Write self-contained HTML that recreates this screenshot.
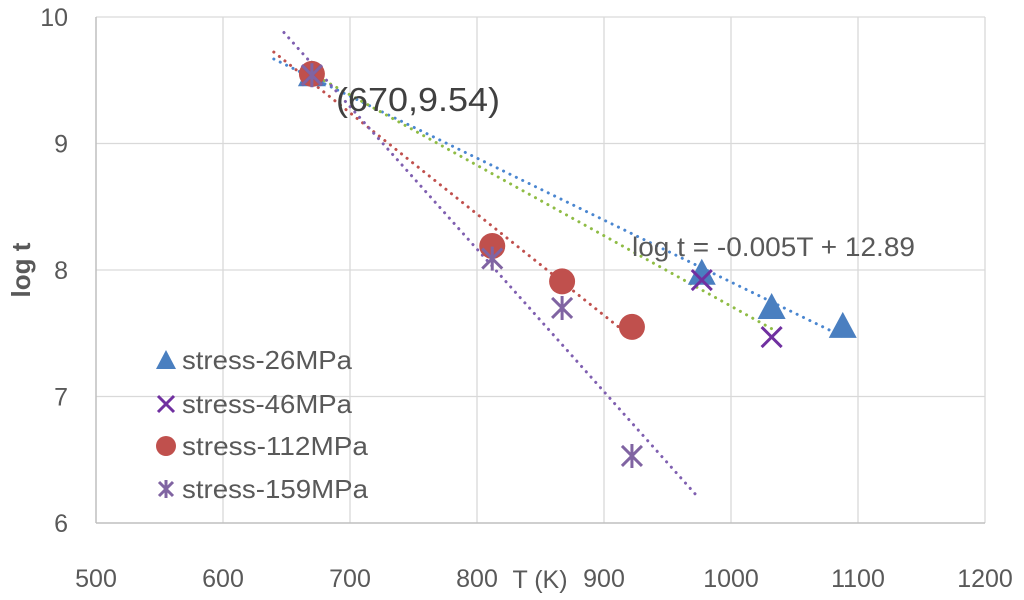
<!DOCTYPE html>
<html><head><meta charset="utf-8"><style>
html,body{margin:0;padding:0;background:#fff;width:1024px;height:600px;overflow:hidden}
svg{display:block;font-family:"Liberation Sans",sans-serif}
</style></head><body>
<svg id="chart" width="1024" height="600"></svg>
<script>
const xTicks=[500,600,700,800,900,1000,1100,1200];
const yTicks=[6,7,8,9,10];
const s26T=[670,977,1032,1088];
const s26Y=[9.54,7.97,7.70,7.55];
const s46T=[670,977,1032];
const s46Y=[9.54,7.92,7.47];
const s112T=[670,812,867,922];
const s112Y=[9.55,8.19,7.91,7.55];
const s159T=[670,812,867,922];
const s159Y=[9.54,8.09,7.70,6.53];
const seriesNames=["stress-26MPa","stress-46MPa","stress-112MPa","stress-159MPa"];

const NS="http://www.w3.org/2000/svg";
const svg=document.getElementById('chart');
const X0=96,X1=985,Y0=523,Y1=17;
const sx=v=>X0+(v-500)/700*(X1-X0);
const sy=v=>Y0-(v-6)/4*(Y0-Y1);
function mk(tag,attrs,parent){const e=document.createElementNS(NS,tag);for(const k in attrs)e.setAttribute(k,attrs[k]);(parent||svg).appendChild(e);return e;}

const grid=mk('g',{});


xTicks.forEach(t=>{if(t>500)mk('line',{x1:sx(t),x2:sx(t),y1:Y1,y2:Y0,stroke:'#d9d9d9','stroke-width':1.3},grid);});
yTicks.forEach(t=>{if(t>6)mk('line',{x1:X0,x2:X1,y1:sy(t),y2:sy(t),stroke:'#d9d9d9','stroke-width':1.3},grid);});
const axes=mk('g',{});


mk('line',{x1:X0,x2:X1,y1:Y0,y2:Y0,stroke:'#bfbfbf','stroke-width':1.5},axes);
mk('line',{x1:X0,x2:X0,y1:Y1,y2:Y0,stroke:'#bfbfbf','stroke-width':1.5},axes);

xTicks.forEach(t=>{const e=mk('text',{x:sx(t),y:587,'text-anchor':'middle','font-size':25,fill:'#595959'});e.textContent=t;

});
yTicks.forEach(t=>{const e=mk('text',{x:68,y:sy(t)+9,'text-anchor':'end','font-size':25,fill:'#595959'});e.textContent=t;

});
let e=mk('text',{x:540,y:588,'text-anchor':'middle','font-size':25,fill:'#595959'});e.textContent='T (K)';


e=mk('text',{x:30,y:270,'text-anchor':'middle','font-size':26,'font-weight':'bold',fill:'#595959',transform:'rotate(-90 30 270)'});e.textContent='log t';



function fit(T,Y){const n=T.length;let mx=0,my=0;T.forEach((t,i)=>{mx+=t;my+=Y[i]});mx/=n;my/=n;let a=0,b=0;T.forEach((t,i)=>{a+=(t-mx)*(Y[i]-my);b+=(t-mx)*(t-mx)});const m=a/b;return [m,my-m*mx];}
function trend(T,Y,back,fwd,color,name){const [m,c]=fit(T,Y);const t0=Math.min(...T)-back,t1=Math.max(...T)+fwd;
const l=mk('line',{x1:sx(t0),y1:sy(m*t0+c),x2:sx(t1),y2:sy(m*t1+c),stroke:color,'stroke-width':3,'stroke-dasharray':'0.1 7','stroke-linecap':'round'});

}
trend(s26T,s26Y,30,0,'#4a86d0','trendline-26mpa');
trend(s46T,s46Y,0,0,'#8fbc45','trendline-46mpa');
trend(s112T,s112Y,30,0,'#c0504d','trendline-112mpa');
trend(s159T,s159Y,22,50,'#7f5fb0','trendline-159mpa');

function tri(x,y,g){mk('polygon',{points:`${x},${y-15} ${x-14},${y+11} ${x+14},${y+11}`,fill:'#4a7fc0'},g);}
function cross(x,y,g,r){mk('path',{d:`M${x-r} ${y-r}L${x+r} ${y+r}M${x-r} ${y+r}L${x+r} ${y-r}`,stroke:'#7030a0','stroke-width':3},g);}
function dot(x,y,g,r){mk('circle',{cx:x,cy:y,r:r,fill:'#c0504d'},g);}
function star(x,y,g,r){mk('path',{d:`M${x-r} ${y-r}L${x+r} ${y+r}M${x-r} ${y+r}L${x+r} ${y-r}M${x} ${y-r-2}L${x} ${y+r+2}`,stroke:'#8064a2','stroke-width':3},g);}

function series(T,Y,fn,name,r){const g=mk('g',{});


T.forEach((t,i)=>fn(sx(t),sy(Y[i]),g,r));}
series(s26T,s26Y,tri,'series-26mpa');
series(s112T,s112Y,dot,'series-112mpa',13);
series(s46T,s46Y,cross,'series-46mpa',10);
series(s159T,s159Y,star,'series-159mpa',10);

e=mk('text',{x:336,y:111,'font-size':33,fill:'#404040',textLength:164,lengthAdjust:'spacingAndGlyphs'});e.textContent='(670,9.54)';


e=mk('text',{x:632,y:256,'font-size':27,fill:'#595959',textLength:283,lengthAdjust:'spacingAndGlyphs'});e.textContent='log t = -0.005T + 12.89';



const leg=mk('g',{});


const ly=[360,404,446,489];
const lw=[170,170,186,186];
const lfns=[(x,y)=>mk('polygon',{points:`${x},${y-10} ${x-10},${y+9} ${x+10},${y+9}`,fill:'#4a7fc0'},leg),
 (x,y)=>cross(x,y,leg,8),(x,y)=>dot(x,y,leg,10),(x,y)=>star(x,y,leg,7)];
seriesNames.forEach((n,i)=>{lfns[i](166,ly[i]);const t=mk('text',{x:182,y:ly[i]+9,'font-size':26,fill:'#595959',textLength:lw[i],lengthAdjust:'spacingAndGlyphs'},leg);t.textContent=n;

});
</script>
</body></html>
